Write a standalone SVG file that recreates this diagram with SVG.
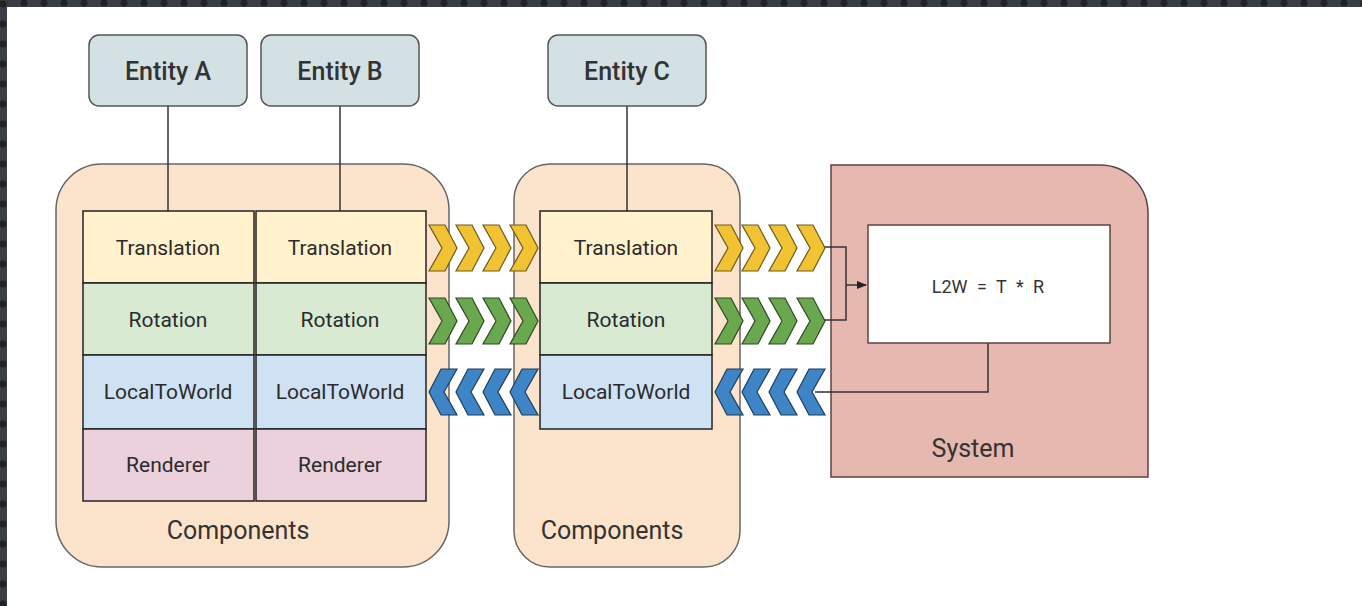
<svg xmlns="http://www.w3.org/2000/svg" width="1362" height="606" viewBox="0 0 1362 606">
  <defs>
    <pattern id="dots" x="0" y="0" width="20" height="7" patternUnits="userSpaceOnUse">
      <rect width="20" height="7" fill="#3a3d44"/>
      <circle cx="4" cy="3" r="3.5" fill="#202227"/>
    </pattern>
    <pattern id="dotsV" x="0" y="0" width="7" height="20" patternUnits="userSpaceOnUse">
      <rect width="7" height="20" fill="#3a3d44"/>
      <circle cx="3" cy="4" r="3.5" fill="#202227"/>
    </pattern>
    <polygon id="chevR" points="0,0 16,0 28,23 16,46 0,46 13,23"/>
    <polygon id="chevL" points="28,0 12,0 0,23 12,46 28,46 15,23"/>
    <marker id="arrow" viewBox="0 0 10 10" refX="9" refY="5" markerWidth="7" markerHeight="7" orient="auto">
      <path d="M0,1 L10,5 L0,9 Z" fill="#222"/>
    </marker>
  </defs>
  <style>
    .entity rect { fill: #d3e1e5; stroke: #555; stroke-width: 1.5; }
    .entity text { font-family: Roboto, "Liberation Sans", sans-serif; font-size: 25px; font-weight: 500; fill: #333; text-anchor: middle; }
    .cont { fill: #fce3cc; stroke: #666; stroke-width: 1.5; }
    .cell { stroke: #222; stroke-width: 1.5; }
    .t { fill: #fff2cc; }
    .r { fill: #d9ead3; }
    .l { fill: #cfe2f3; }
    .n { fill: #ead1dc; }
    .cell-text { font-family: Roboto, "Liberation Sans", sans-serif; font-size: 21px; fill: #2b2b2b; text-anchor: middle; }
    .label { font-family: Roboto, "Liberation Sans", sans-serif; font-size: 25px; fill: #333; text-anchor: middle; }
    .formula { font-family: Roboto, "Liberation Sans", sans-serif; font-size: 18px; word-spacing: 5px; fill: #333; text-anchor: middle; }
    .link { fill: none; stroke: #333; stroke-width: 1.5; }
    .yel { fill: #f1c232; stroke: #6b5a1e; stroke-width: 1.2; }
    .grn { fill: #6aa84f; stroke: #2f4a22; stroke-width: 1.2; }
    .blu { fill: #3d85c6; stroke: #1e3d5c; stroke-width: 1.2; }
  </style>

  <rect width="1362" height="606" fill="#ffffff"/>
  <!-- dark frame strips along top and left edges -->
  <rect x="0" y="0" width="1362" height="7" fill="url(#dots)"/>
  <rect x="0" y="0" width="7" height="606" fill="url(#dotsV)"/>

  <!-- component containers -->
  <g id="components-1">
    <rect class="cont" x="56" y="164" width="393" height="403" rx="46" ry="46"/>
    <text class="label" x="238" y="539">Components</text>
  </g>
  <g id="components-2">
    <rect class="cont" x="514" y="164" width="226" height="403" rx="36" ry="36"/>
    <text class="label" x="612" y="539">Components</text>
  </g>

  <!-- system -->
  <g id="system">
    <path d="M831,165 H1100 A48,48 0 0 1 1148,213 V477 H831 Z" fill="#e6b8af" stroke="#5e4440" stroke-width="1.5"/>
    <text class="label" x="973" y="457">System</text>
  </g>

  <!-- connectors -->
  <g id="connectors">
    <line class="link" x1="168" y1="106" x2="168" y2="211"/>
    <line class="link" x1="340" y1="106" x2="340" y2="211"/>
    <line class="link" x1="627" y1="106" x2="627" y2="211"/>
    <polyline class="link" points="822,247 846,247 846,320 822,320"/>
    <line class="link" x1="846" y1="285" x2="866" y2="285" marker-end="url(#arrow)"/>
    <polyline class="link" points="988,343 988,392 815,392"/>
  </g>

  <!-- entities -->
  <g id="entity-a" class="entity">
    <rect x="89" y="35" width="158" height="71" rx="10" ry="10"/>
    <text x="168" y="80">Entity A</text>
  </g>
  <g id="entity-b" class="entity">
    <rect x="261" y="35" width="158" height="71" rx="10" ry="10"/>
    <text x="340" y="80">Entity B</text>
  </g>
  <g id="entity-c" class="entity">
    <rect x="548" y="35" width="158" height="71" rx="10" ry="10"/>
    <text x="627" y="80">Entity C</text>
  </g>

  <!-- component column for Entity A -->
  <g id="column-a">
    <rect class="cell t" x="83" y="211" width="171" height="72"/>
    <rect class="cell r" x="83" y="283" width="171" height="72"/>
    <rect class="cell l" x="83" y="355" width="171" height="74"/>
    <rect class="cell n" x="83" y="429" width="171" height="72"/>
    <text class="cell-text" x="168" y="255">Translation</text>
    <text class="cell-text" x="168" y="327">Rotation</text>
    <text class="cell-text" x="168" y="399">LocalToWorld</text>
    <text class="cell-text" x="168" y="472">Renderer</text>
  </g>

  <!-- component column for Entity B -->
  <g id="column-b">
    <rect class="cell t" x="256" y="211" width="170" height="72"/>
    <rect class="cell r" x="256" y="283" width="170" height="72"/>
    <rect class="cell l" x="256" y="355" width="170" height="74"/>
    <rect class="cell n" x="256" y="429" width="170" height="72"/>
    <text class="cell-text" x="340" y="255">Translation</text>
    <text class="cell-text" x="340" y="327">Rotation</text>
    <text class="cell-text" x="340" y="399">LocalToWorld</text>
    <text class="cell-text" x="340" y="472">Renderer</text>
  </g>

  <!-- component column for Entity C -->
  <g id="column-c">
    <rect class="cell t" x="540" y="211" width="172" height="72"/>
    <rect class="cell r" x="540" y="283" width="172" height="72"/>
    <rect class="cell l" x="540" y="355" width="172" height="74"/>
    <text class="cell-text" x="626" y="255">Translation</text>
    <text class="cell-text" x="626" y="327">Rotation</text>
    <text class="cell-text" x="626" y="399">LocalToWorld</text>
  </g>

  <!-- L2W job inside the system -->
  <g id="l2w">
    <rect x="868" y="225" width="242" height="118" fill="#ffffff" stroke="#5e4440" stroke-width="1.5"/>
    <text class="formula" x="988" y="293">L2W = T * R</text>
  </g>

  <!-- data flow chevrons between columns -->
  <g id="flow-1">
    <use href="#chevR" class="yel" x="429" y="225"/>
    <use href="#chevR" class="yel" x="456" y="225"/>
    <use href="#chevR" class="yel" x="483" y="225"/>
    <use href="#chevR" class="yel" x="510" y="225"/>
    <use href="#chevR" class="grn" x="429" y="298"/>
    <use href="#chevR" class="grn" x="456" y="298"/>
    <use href="#chevR" class="grn" x="483" y="298"/>
    <use href="#chevR" class="grn" x="510" y="298"/>
    <use href="#chevL" class="blu" x="429" y="369"/>
    <use href="#chevL" class="blu" x="456" y="369"/>
    <use href="#chevL" class="blu" x="483" y="369"/>
    <use href="#chevL" class="blu" x="510" y="369"/>
  </g>
  <g id="flow-2">
    <use href="#chevR" class="yel" x="715" y="225"/>
    <use href="#chevR" class="yel" x="742" y="225"/>
    <use href="#chevR" class="yel" x="769" y="225"/>
    <use href="#chevR" class="yel" x="797" y="225"/>
    <use href="#chevR" class="grn" x="715" y="298"/>
    <use href="#chevR" class="grn" x="742" y="298"/>
    <use href="#chevR" class="grn" x="769" y="298"/>
    <use href="#chevR" class="grn" x="797" y="298"/>
    <use href="#chevL" class="blu" x="715" y="369"/>
    <use href="#chevL" class="blu" x="742" y="369"/>
    <use href="#chevL" class="blu" x="769" y="369"/>
    <use href="#chevL" class="blu" x="797" y="369"/>
  </g>
</svg>
